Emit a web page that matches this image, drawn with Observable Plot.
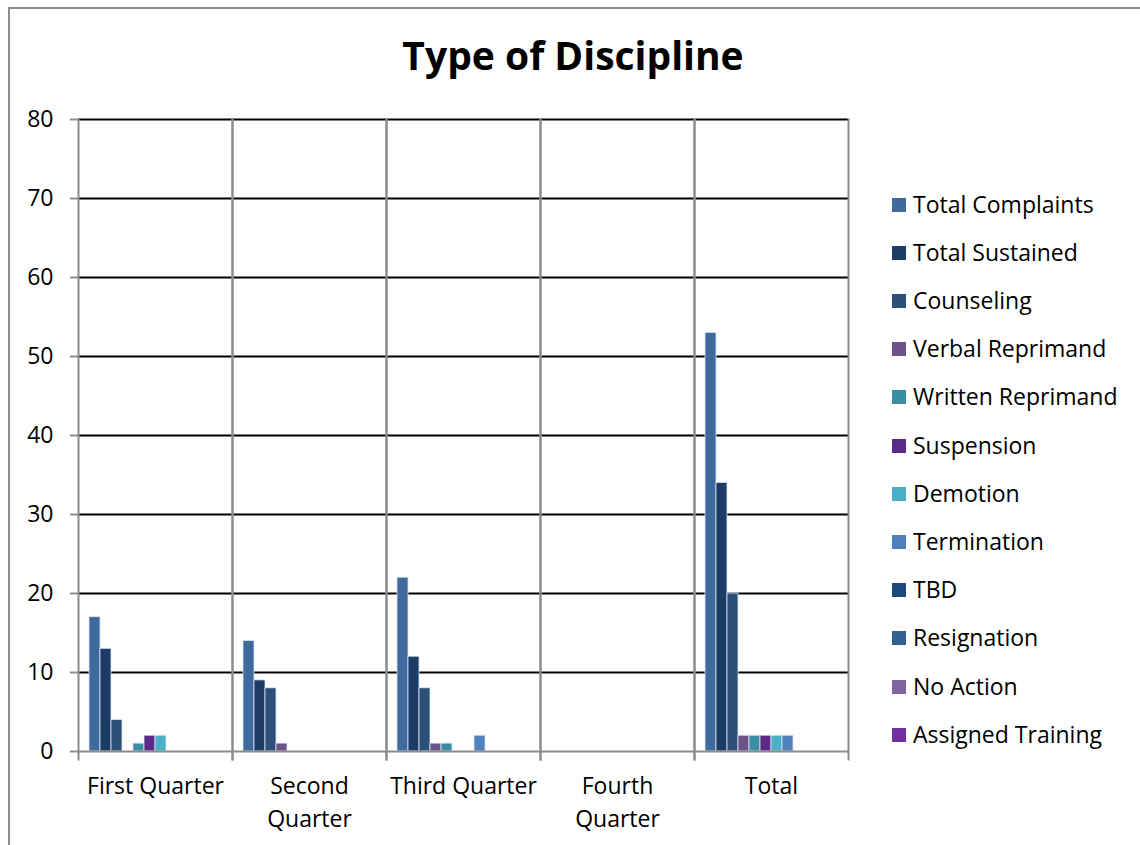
<!DOCTYPE html>
<html><head><meta charset="utf-8">
<script src="https://cdn.jsdelivr.net/npm/d3@7"></script>
<script src="https://cdn.jsdelivr.net/npm/@observablehq/plot@0.6"></script>
<style>
body{margin:0;background:#fff;font-family:"Open Sans",sans-serif;}
#wrap{position:relative;width:1140px;height:845px;overflow:hidden;background:#fff;}
#border{position:absolute;left:8px;top:7px;right:-4px;bottom:-4px;border-left:2px solid #8c8c8c;border-top:2px solid #8c8c8c;}
#chart{position:absolute;left:0;top:0;}
#title{position:absolute;left:0;width:1146px;top:35px;text-align:center;font-weight:700;font-size:39px;line-height:39px;color:#000;}
.lg{position:absolute;left:892px;height:30px;display:flex;align-items:center;font-size:23px;color:#000;white-space:nowrap;}
.lg span.sw{display:inline-block;width:14px;height:14px;margin-right:7px;margin-top:2px;}
</style>
</head><body>
<div id="wrap"><div id="border"></div><div id="chart"></div><div id="title">Type of Discipline</div><div id="legend"></div></div>
<script>
const quarters = ["First Quarter","Second Quarter","Third Quarter","Fourth Quarter","Total"];
const quarterLabels = ["First Quarter","Second\nQuarter","Third Quarter","Fourth\nQuarter","Total"];
const series = ["Total Complaints","Total Sustained","Counseling","Verbal Reprimand","Written Reprimand","Suspension","Demotion","Termination","TBD","Resignation","No Action","Assigned Training"];
const seriesColors = ["#3f6a9e","#1c3b66","#2c5079","#6b5389","#3a8ea3","#5b2a86","#4bafc8","#4f81bd","#1f497d","#376092","#8064a2","#7030a0"];
const firstQuarter  = [17,13,4,0,1,2,2,0,0,0,0,0];
const secondQuarter = [14,9,8,1,0,0,0,0,0,0,0,0];
const thirdQuarter  = [22,12,8,1,1,0,0,2,0,0,0,0];
const fourthQuarter = [0,0,0,0,0,0,0,0,0,0,0,0];
const totalValues   = [53,34,20,2,2,2,2,2,0,0,0,0];
const yTicks = [0,10,20,30,40,50,60,70,80];

const valuesByQuarter = [firstQuarter, secondQuarter, thirdQuarter, fourthQuarter, totalValues];
const data = [];
quarters.forEach((q, qi) => series.forEach((s, si) => data.push({quarter: q, series: s, value: valuesByQuarter[qi][si]})));
const labelFor = new Map(quarters.map((q, i) => [q, quarterLabels[i]]));

const chart = Plot.plot({
  width: 1140, height: 845,
  marginLeft: 77, marginRight: 291, marginTop: 119, marginBottom: 94,
  style: {fontFamily: "'Open Sans', sans-serif", fontSize: "23px", color: "#000", background: "transparent", overflow: "visible"},
  fx: {domain: quarters, padding: 0, label: null, axis: null},
  x: {domain: series, padding: 0, inset: 8, axis: null},
  y: {domain: [0, 80], axis: null},
  color: {domain: series, range: seriesColors},
  marks: [
    Plot.ruleY(yTicks.filter(d => d > 0), {stroke: "#000", strokeWidth: 2}),
    Plot.frame({anchor: "left", stroke: "#8c8c8c", strokeWidth: 2, insetBottom: -8}),
    Plot.frame({anchor: "right", stroke: "#8c8c8c", strokeWidth: 2, insetBottom: -8}),
    Plot.barY(data, {fx: "quarter", x: "series", y: "value", fill: "series", stroke: "#dfe7f1", strokeWidth: 0.8, filter: d => d.value > 0}),
    Plot.ruleY([0], {stroke: "#8c8c8c", strokeWidth: 2}),
    Plot.axisY({ticks: yTicks, tickSize: 8, tickPadding: 17, stroke: "#8c8c8c", strokeWidth: 2, fill: "#000", label: null}),
    Plot.axisFx({anchor: "bottom", tickSize: 0, tickPadding: 19, tickFormat: d => labelFor.get(d), lineHeight: 1.43, fill: "#000", label: null})
  ]
});
document.getElementById("chart").appendChild(chart);

const legend = document.getElementById("legend");
series.forEach((s, i) => {
  const row = document.createElement("div");
  row.className = "lg";
  row.style.top = (205.5 + i * 48.2 - 17) + "px";
  const sw = document.createElement("span");
  sw.className = "sw";
  sw.style.background = seriesColors[i];
  const tx = document.createElement("span");
  tx.textContent = s;
  row.appendChild(sw); row.appendChild(tx);
  legend.appendChild(row);
});
</script>
</body></html>
